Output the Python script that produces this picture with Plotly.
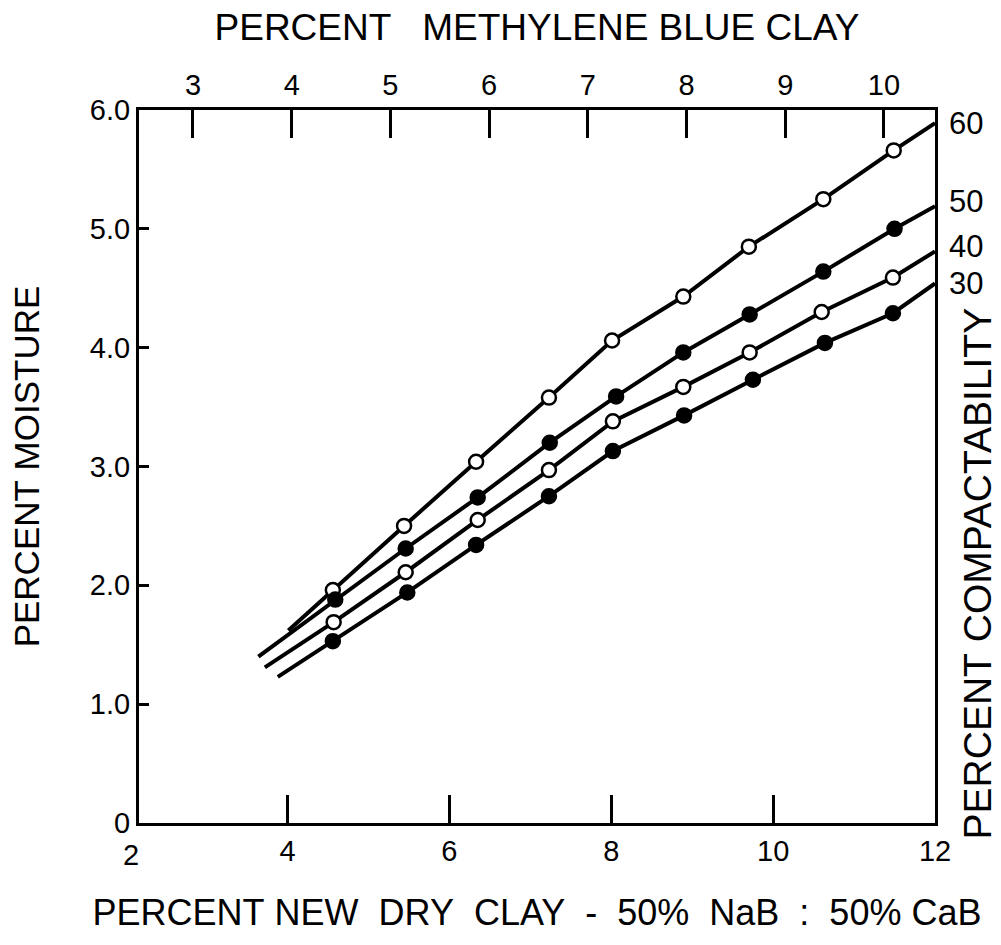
import plotly.graph_objects as go

# Percent new dry clay (50% NaB : 50% CaB) at each measured point
clay_60 = [4.56, 5.44, 6.33, 7.23, 8.01, 8.89, 9.70, 10.62, 11.49]
clay_50 = [4.59, 5.46, 6.35, 7.24, 8.06, 8.89, 9.71, 10.62, 11.50]
clay_40 = [4.57, 5.46, 6.35, 7.23, 8.02, 8.89, 9.71, 10.60, 11.48]
clay_30 = [4.56, 5.48, 6.33, 7.23, 8.02, 8.90, 9.75, 10.64, 11.48]

# Percent moisture at each point, one list per compactability level
moist_60 = [1.96, 2.50, 3.04, 3.58, 4.06, 4.43, 4.85, 5.25, 5.66]
moist_50 = [1.88, 2.31, 2.74, 3.20, 3.59, 3.96, 4.28, 4.64, 5.00]
moist_40 = [1.69, 2.11, 2.55, 2.97, 3.38, 3.67, 3.96, 4.30, 4.59]
moist_30 = [1.53, 1.94, 2.34, 2.75, 3.13, 3.43, 3.73, 4.04, 4.29]

# Where each curve is extended beyond the measured points (x, y)
ext_60 = [(4.01, 1.62), (12.0, 5.89)]
ext_50 = [(3.64, 1.40), (12.0, 5.19)]
ext_40 = [(3.72, 1.31), (12.0, 4.81)]
ext_30 = [(3.88, 1.23), (12.0, 4.54)]

compactability = ["60", "50", "40", "30"]
open_marker = [True, False, True, False]

# Tick labels
moisture_ticks = [0, 1, 2, 3, 4, 5, 6]
moisture_labels = ["0", "1.0", "2.0", "3.0", "4.0", "5.0", "6.0"]
new_clay_ticks = [4, 6, 8, 10, 12]
mb_clay_ticks = [3, 4, 5, 6, 7, 8, 9, 10]

X_RANGE = [2.165, 12.0]
FONT = "Liberation Sans, Arial, sans-serif"
NB = "\u00a0"

series = [
    (clay_60, moist_60, ext_60),
    (clay_50, moist_50, ext_50),
    (clay_40, moist_40, ext_40),
    (clay_30, moist_30, ext_30),
]

fig = go.Figure()

for (cx, my, ext), name, is_open in zip(series, compactability, open_marker):
    (x0, y0), (x1, y1) = ext
    fig.add_trace(go.Scatter(
        x=[x0] + cx + [x1], y=[y0] + my + [y1],
        mode="lines", line=dict(color="black", width=4),
        hoverinfo="skip", showlegend=False,
    ))
    fig.add_trace(go.Scatter(
        x=cx, y=my, mode="markers", name=name + "%",
        marker=dict(symbol="circle", size=14,
                    color="white" if is_open else "black",
                    line=dict(color="black", width=2.5)),
        showlegend=False,
    ))
    # compactability label at the right end of each curve
    fig.add_annotation(
        x=1, xref="paper", y=y1, yref="y", text=name,
        showarrow=False, xanchor="left", xshift=12,
        yshift=5 if name in ("50", "40") else 0,
        font=dict(family=FONT, size=31, color="black"),
    )

# invisible trace so the top axis is laid out
fig.add_trace(go.Scatter(x=[], y=[], xaxis="x2", showlegend=False))

axis_common = dict(
    showline=True, linecolor="black", linewidth=3,
    ticks="inside", tickcolor="black", tickwidth=2.5,
    showgrid=False, zeroline=False,
    tickfont=dict(family=FONT, size=29, color="black"),
)

fig.update_layout(
    width=1001, height=945, autosize=False,
    margin=dict(l=139, r=66, t=110, b=122),
    paper_bgcolor="white", plot_bgcolor="white",
    font=dict(family=FONT, color="black"),
    xaxis=dict(
        axis_common, range=X_RANGE, tickvals=new_clay_ticks,
        ticklen=28,
        title=dict(
            text=f"PERCENT{NB}NEW{NB}{NB}DRY{NB}{NB}CLAY{NB}{NB}-{NB}{NB}50%{NB}{NB}NaB{NB}{NB}:{NB}{NB}50%{NB}CaB",
            font=dict(family=FONT, size=36), standoff=35),
    ),
    xaxis2=dict(
        axis_common, overlaying="x", side="top", anchor="y",
        range=[2.453, 10.517], tickvals=mb_clay_ticks, ticklen=28,
        title=dict(text=f"PERCENT{NB}{NB}{NB}METHYLENE{NB}BLUE{NB}CLAY",
                   font=dict(family=FONT, size=37), standoff=18),
    ),
    yaxis=dict(
        axis_common, range=[0, 6], tickvals=moisture_ticks,
        ticktext=moisture_labels, ticklen=10, mirror=True,
        title=dict(text=f"PERCENT{NB}MOISTURE",
                   font=dict(family=FONT, size=35), standoff=40),
    ),
)

# "2" at the origin of the new dry clay scale
fig.add_annotation(
    x=(2 - X_RANGE[0]) / (X_RANGE[1] - X_RANGE[0]), xref="paper", xshift=5,
    y=0, yref="y", text="2", showarrow=False,
    xanchor="center", yanchor="top", yshift=-14,
    font=dict(family=FONT, size=29, color="black"),
)

# right-hand axis title
fig.add_annotation(
    x=1.0528, xref="paper", y=0.350, yref="paper", xanchor="center",
    yanchor="middle",
    text=f"PERCENT{NB}COMPACTABILITY", textangle=-90, showarrow=False,
    font=dict(family=FONT, size=39, color="black"),
)

fig.write_html("out.html")
